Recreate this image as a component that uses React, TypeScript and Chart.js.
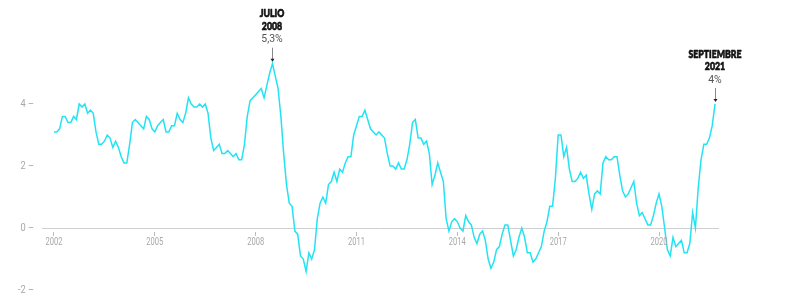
import { useEffect, useRef } from 'react';
import { Chart, registerables } from 'chart.js';

Chart.register(...registerables);

// Spain CPI, year-on-year change (%), monthly values Jan..Dec
const startYear = 2002;
const cpi2002 = [3.1, 3.1, 3.2, 3.6, 3.6, 3.4, 3.4, 3.6, 3.5, 4.0, 3.9, 4.0];
const cpi2003 = [3.7, 3.8, 3.7, 3.1, 2.7, 2.7, 2.8, 3.0, 2.9, 2.6, 2.8, 2.6];
const cpi2004 = [2.3, 2.1, 2.1, 2.7, 3.4, 3.5, 3.4, 3.3, 3.2, 3.6, 3.5, 3.2];
const cpi2005 = [3.1, 3.3, 3.4, 3.5, 3.1, 3.1, 3.3, 3.3, 3.7, 3.5, 3.4, 3.7];
const cpi2006 = [4.2, 4.0, 3.9, 3.9, 4.0, 3.9, 4.0, 3.7, 2.9, 2.5, 2.6, 2.7];
const cpi2007 = [2.4, 2.4, 2.5, 2.4, 2.3, 2.4, 2.2, 2.2, 2.7, 3.6, 4.1, 4.2];
const cpi2008 = [4.3, 4.4, 4.5, 4.2, 4.6, 5.0, 5.3, 4.9, 4.5, 3.6, 2.4, 1.4];
const cpi2009 = [0.8, 0.7, -0.1, -0.2, -0.9, -1.0, -1.4, -0.8, -1.0, -0.7, 0.3, 0.8];
const cpi2010 = [1.0, 0.8, 1.4, 1.5, 1.8, 1.5, 1.9, 1.8, 2.1, 2.3, 2.3, 3.0];
const cpi2011 = [3.3, 3.6, 3.6, 3.8, 3.5, 3.2, 3.1, 3.0, 3.1, 3.0, 2.9, 2.4];
const cpi2012 = [2.0, 2.0, 1.9, 2.1, 1.9, 1.9, 2.2, 2.7, 3.4, 3.5, 2.9, 2.9];
const cpi2013 = [2.7, 2.8, 2.4, 1.4, 1.7, 2.1, 1.8, 1.5, 0.3, -0.1, 0.2, 0.3];
const cpi2014 = [0.2, 0.0, -0.1, 0.4, 0.2, 0.1, -0.3, -0.5, -0.2, -0.1, -0.4, -1.0];
const cpi2015 = [-1.3, -1.1, -0.7, -0.6, -0.2, 0.1, 0.1, -0.4, -0.9, -0.7, -0.3, 0.0];
const cpi2016 = [-0.3, -0.8, -0.8, -1.1, -1.0, -0.8, -0.6, -0.1, 0.2, 0.7, 0.7, 1.6];
const cpi2017 = [3.0, 3.0, 2.3, 2.6, 1.9, 1.5, 1.5, 1.6, 1.8, 1.6, 1.7, 1.1];
const cpi2018 = [0.6, 1.1, 1.2, 1.1, 2.1, 2.3, 2.2, 2.2, 2.3, 2.3, 1.7, 1.2];
const cpi2019 = [1.0, 1.1, 1.3, 1.5, 0.8, 0.4, 0.5, 0.3, 0.1, 0.1, 0.4, 0.8];
const cpi2020 = [1.1, 0.7, 0.0, -0.7, -0.9, -0.3, -0.6, -0.5, -0.4, -0.8, -0.8, -0.5];
const cpi2021 = [0.5, 0.0, 1.3, 2.2, 2.7, 2.7, 2.9, 3.3, 4.0];

const yearlySeries = [
  cpi2002, cpi2003, cpi2004, cpi2005, cpi2006, cpi2007, cpi2008,
  cpi2009, cpi2010, cpi2011, cpi2012, cpi2013, cpi2014, cpi2015,
  cpi2016, cpi2017, cpi2018, cpi2019, cpi2020, cpi2021,
];

const xTickYears = [2002, 2005, 2008, 2011, 2014, 2017, 2020];
const yTickValues = [-2, 0, 2, 4];

const callouts = [
  { year: 2008, month: 7, title: ['JULIO', '2008'], label: '5,3%' },
  { year: 2021, month: 9, title: ['SEPTIEMBRE', '2021'], label: '4%' },
];

const points = yearlySeries.flatMap((arr, i) =>
  arr.map((v, m) => ({ x: startYear + i + m / 12, y: v }))
);

function drawCondensed(
  ctx: CanvasRenderingContext2D,
  text: string,
  x: number,
  y: number,
  align: CanvasTextAlign,
  sx: number,
  bolden = 0
) {
  ctx.save();
  ctx.translate(x, y);
  ctx.scale(sx, 1);
  ctx.textAlign = align;
  if (bolden > 0) {
    ctx.lineWidth = bolden;
    ctx.lineJoin = 'round';
    ctx.strokeStyle = ctx.fillStyle as string;
    ctx.strokeText(text, 0, 0);
  }
  ctx.fillText(text, 0, 0);
  ctx.restore();
}

const axisLabelPlugin = {
  id: 'axisLabels',
  afterDraw(chart: any) {
    const { ctx, scales, chartArea } = chart;
    const xs = scales.x;
    const ys = scales.y;
    ctx.save();
    ctx.font = '10.5px Roboto, sans-serif';
    ctx.fillStyle = '#a8a8a8';
    ctx.textBaseline = 'middle';
    const zeroY = ys.getPixelForValue(0);
    xs.ticks.forEach((t: any) => {
      drawCondensed(ctx, String(t.value), xs.getPixelForValue(t.value), zeroY + 14, 'center', 0.72);
    });
    ys.ticks.forEach((t: any) => {
      drawCondensed(ctx, `${t.value} –`, chartArea.left - 8, ys.getPixelForValue(t.value), 'right', 0.88);
    });
    ctx.restore();
  },
};

const calloutPlugin = {
  id: 'callouts',
  afterDatasetsDraw(chart: any) {
    const { ctx, scales } = chart;
    const xs = scales.x;
    const ys = scales.y;
    callouts.forEach((c) => {
      const v = yearlySeries[c.year - startYear][c.month - 1];
      const px = Math.round(xs.getPixelForValue(c.year + (c.month - 1) / 12));
      const py = ys.getPixelForValue(v);
      ctx.save();
      ctx.textBaseline = 'middle';
      ctx.fillStyle = '#111';
      ctx.font = '900 11.5px Lato, Roboto, sans-serif';
      c.title.forEach((t, i) => {
        drawCondensed(ctx, t, px, py - 50 + i * 12.5, 'center', 0.76, 0.7);
      });
      ctx.fillStyle = '#555';
      ctx.font = '11px Roboto, sans-serif';
      drawCondensed(ctx, c.label, px, py - 24, 'center', 0.95);
      ctx.strokeStyle = '#888';
      ctx.lineWidth = 1;
      ctx.beginPath();
      ctx.moveTo(px + 0.5, py - 16);
      ctx.lineTo(px + 0.5, py - 4);
      ctx.stroke();
      ctx.fillStyle = '#222';
      ctx.beginPath();
      ctx.moveTo(px - 1.5, py - 5);
      ctx.lineTo(px + 2.5, py - 5);
      ctx.lineTo(px + 0.5, py - 2);
      ctx.closePath();
      ctx.fill();
      ctx.restore();
    });
  },
};

export default function App() {
  const canvasRef = useRef<HTMLCanvasElement | null>(null);

  useEffect(() => {
    const canvas = canvasRef.current;
    if (!canvas) return;
    const chart = new Chart(canvas, {
      type: 'line',
      data: {
        datasets: [
          {
            data: points,
            borderColor: '#22e3f3',
            borderWidth: 1.5,
            pointRadius: 0,
            tension: 0,
            fill: false,
          },
        ],
      },
      options: {
        animation: false,
        responsive: true,
        maintainAspectRatio: false,
        layout: { padding: { left: 0, right: 85, top: 42, bottom: 9 } },
        plugins: { legend: { display: false }, tooltip: { enabled: false } },
        scales: {
          x: {
            type: 'linear',
            position: { y: 0 },
            min: 2001.643,
            max: 2021.755,
            afterBuildTicks: (s: any) => {
              s.ticks = xTickYears.map((v) => ({ value: v }));
            },
            grid: {
              display: true,
              drawOnChartArea: false,
              drawTicks: true,
              tickLength: 7,
              tickColor: '#bbb',
              tickBorderDash: [0, 3, 4, 20],
            },
            border: { display: true, color: '#cfcfcf', width: 1 },
            ticks: { display: false },
          },
          y: {
            type: 'linear',
            min: -2,
            max: 6,
            afterBuildTicks: (s: any) => {
              s.ticks = yTickValues.map((v) => ({ value: v }));
            },
            afterFit: (s: any) => {
              s.width = 42;
            },
            grid: { display: false, drawTicks: false },
            border: { display: false },
            ticks: { display: false },
          },
        },
      },
      plugins: [calloutPlugin, axisLabelPlugin],
    });
    return () => chart.destroy();
  }, []);

  return (
    <div style={{ position: 'fixed', left: 0, top: 0, width: 803, height: 299, background: '#fff' }}>
      <canvas ref={canvasRef} />
    </div>
  );
}
